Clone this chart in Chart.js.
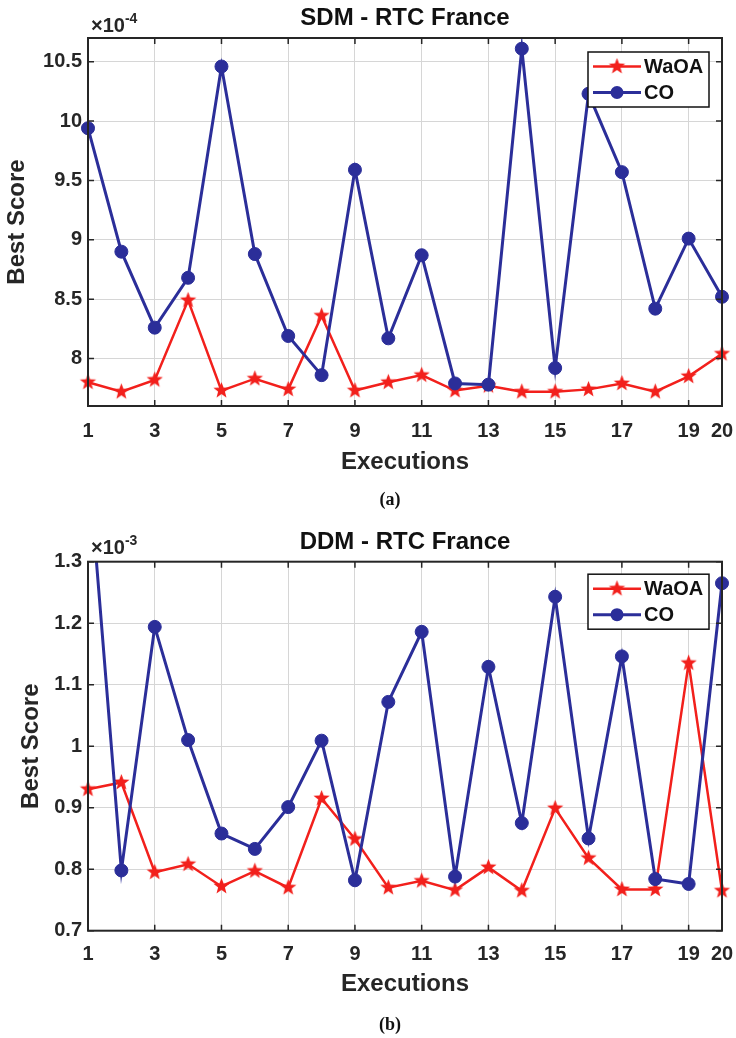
<!DOCTYPE html>
<html>
<head>
<meta charset="utf-8">
<script src="https://cdn.jsdelivr.net/npm/chart.js@4.4.1/dist/chart.umd.min.js"></script>
<style>
  body{margin:0;background:#fff;}
  .box{position:relative;width:736px;}
</style>
</head>
<body>
<div class="box" style="height:520px"><canvas id="c_sdm"></canvas></div>
<div class="box" style="height:518px"><canvas id="c_ddm"></canvas></div>
<script>
Chart.defaults.font.family="'Liberation Sans',Arial,sans-serif";
Chart.defaults.animation=false;

const executions=[1,2,3,4,5,6,7,8,9,10,11,12,13,14,15,16,17,18,19,20];
const xTicks=[1,3,5,7,9,11,13,15,17,19,20];

// SDM scores, in units of 1e-4
const sdmWaOA=[7.80,7.72,7.82,8.49,7.73,7.83,7.74,8.36,7.73,7.80,7.86,7.73,7.77,7.72,7.72,7.74,7.79,7.72,7.85,8.04];
const sdmCO=[9.94,8.90,8.26,8.68,10.46,8.88,8.19,7.86,9.59,8.17,8.87,7.79,7.78,10.61,7.92,10.23,9.57,8.42,9.01,8.52];
const sdmTicks=[8,8.5,9,9.5,10,10.5];

// DDM scores, in units of 1e-3
const ddmWaOA=[0.930,0.941,0.795,0.808,0.772,0.797,0.770,0.915,0.849,0.770,0.781,0.766,0.803,0.765,0.899,0.818,0.767,0.767,1.135,0.765];
const ddmCO=[1.47,0.798,1.194,1.010,0.858,0.833,0.901,1.009,0.782,1.072,1.186,0.788,1.129,0.875,1.243,0.850,1.146,0.784,0.776,1.265];
const ddmTicks=[0.7,0.8,0.9,1,1.1,1.2,1.3];

const RED='#F2201C', BLUE='#2B2E99', INK='#262626', GRID='#d6d6d6';

// filled pentagram marker
function makeStar(color,r){
  const c=document.createElement('canvas');
  const s=Math.ceil(r*2+2);
  c.width=c.height=s;
  const g=c.getContext('2d');
  g.beginPath();
  for(let i=0;i<10;i++){
    const rr=i%2?r*0.42:r, a=-Math.PI/2+i*Math.PI/5;
    g.lineTo(s/2+rr*Math.cos(a),s/2+rr*Math.sin(a));
  }
  g.closePath();
  g.fillStyle=color;g.fill();
  return c;
}
const STAR=makeStar(RED,8.5);

const pts=vals=>executions.map((x,i)=>({x,y:vals[i]}));

// box, inward ticks, exponent label, caption and framed legend
const axesDecor={
  id:'axesDecor',
  afterDraw(chart,args,o){
    const {ctx,chartArea:a,scales:{x,y}}=chart;
    ctx.save();
    ctx.strokeStyle=INK;ctx.lineWidth=1.5;
    ctx.beginPath();
    x.ticks.forEach(t=>{
      const px=x.getPixelForValue(t.value);
      ctx.moveTo(px,a.bottom);ctx.lineTo(px,a.bottom-6);
      ctx.moveTo(px,a.top);ctx.lineTo(px,a.top+6);
    });
    y.ticks.forEach(t=>{
      const py=y.getPixelForValue(t.value);
      ctx.moveTo(a.left,py);ctx.lineTo(a.left+6,py);
      ctx.moveTo(a.right,py);ctx.lineTo(a.right-6,py);
    });
    ctx.stroke();
    ctx.lineWidth=2;
    ctx.strokeRect(a.left,a.top,a.right-a.left,a.bottom-a.top);

    // exponent
    ctx.fillStyle=INK;ctx.textBaseline='alphabetic';ctx.textAlign='left';
    ctx.font="bold 20px 'Liberation Sans',Arial,sans-serif";
    const base=a.top-o.expGap;
    ctx.fillText('\u00d710',a.left+3,base);
    const w=ctx.measureText('\u00d710').width;
    ctx.font="bold 14px 'Liberation Sans',Arial,sans-serif";
    ctx.fillText(o.exp,a.left+3+w,base-9);

    // caption
    ctx.fillStyle='#111';ctx.textAlign='center';ctx.textBaseline='middle';
    ctx.font="bold 18px 'Liberation Serif','Times New Roman',serif";
    ctx.fillText(o.caption,390,o.captionY);

    // legend
    const bw=121,bh=55,bx=a.right-13-bw,by=a.top+o.legTop;
    ctx.fillStyle='#fff';ctx.fillRect(bx,by,bw,bh);
    ctx.strokeStyle='#111';ctx.lineWidth=1.5;ctx.strokeRect(bx,by,bw,bh);
    chart.data.datasets.forEach((ds,i)=>{
      const ry=by+14.5+i*26;
      ctx.strokeStyle=ds.borderColor;ctx.lineWidth=ds.borderWidth;
      ctx.beginPath();ctx.moveTo(bx+5,ry);ctx.lineTo(bx+53,ry);ctx.stroke();
      if(ds.pointStyle instanceof HTMLCanvasElement){
        ctx.drawImage(ds.pointStyle,bx+29-ds.pointStyle.width/2,ry-ds.pointStyle.height/2);
      }else{
        ctx.fillStyle=ds.pointBackgroundColor;
        ctx.beginPath();ctx.arc(bx+29,ry,ds.pointRadius,0,Math.PI*2);ctx.fill();
      }
      ctx.fillStyle='#111';ctx.textAlign='left';ctx.textBaseline='middle';
      ctx.font="bold 20px 'Liberation Sans',Arial,sans-serif";
      ctx.fillText(ds.label,bx+56,ry+1);
    });
    ctx.restore();
  }
};

function scoreChart(id,c){
  return new Chart(document.getElementById(id),{
    type:'line',
    data:{datasets:[
      {label:'WaOA',data:pts(c.waoa),borderColor:RED,borderWidth:2.5,
       pointStyle:STAR,pointRadius:8,order:1,
       clip:{left:12,right:12,top:0,bottom:12}},
      {label:'CO',data:pts(c.co),borderColor:BLUE,borderWidth:3,
       pointStyle:'circle',pointRadius:6.5,pointBackgroundColor:BLUE,pointBorderColor:BLUE,pointBorderWidth:1,order:0,
       clip:{left:12,right:12,top:0,bottom:12}}
    ]},
    options:{
      responsive:true,maintainAspectRatio:false,
      layout:{padding:{left:0,right:14,top:0,bottom:c.padBottom}},
      plugins:{
        legend:{display:false},
        tooltip:{enabled:false},
        title:{display:true,text:c.title,fullSize:false,color:'#111',
          font:{size:24,weight:'bold'},padding:{top:c.titleTop,bottom:c.titleBottom}},
        axesDecor:{exp:c.exp,expGap:c.expGap,caption:c.caption,captionY:c.captionY,legTop:c.legTop}
      },
      scales:{
        x:{type:'linear',min:1,max:20,
          afterBuildTicks:s=>{s.ticks=xTicks.map(v=>({value:v}));},
          afterFit:s=>{s.height=c.xHeight;s.paddingLeft=0;s.paddingRight=0;},
          grid:{color:GRID,lineWidth:1,drawTicks:false},
          border:{display:false},
          ticks:{padding:c.xTickPad,color:INK,autoSkip:false,maxRotation:0,
            font:{size:20,weight:'bold'},callback:v=>String(v)},
          title:{display:true,text:'Executions',color:INK,
            font:{size:24,weight:'bold'},padding:{top:0,bottom:3.6}}
        },
        y:{min:c.yMin,max:c.yMax,
          afterBuildTicks:s=>{s.ticks=c.yTicks.map(v=>({value:v}));},
          afterFit:s=>{s.width=88;},
          grid:{color:GRID,lineWidth:1,drawTicks:false},
          border:{display:false},
          ticks:{padding:6,color:INK,font:{size:20,weight:'bold'},callback:v=>String(v)},
          title:{display:true,text:'Best Score',color:INK,
            font:{size:24,weight:'bold'},padding:{top:c.yTitlePad,bottom:0}}
        }
      }
    },
    plugins:[axesDecor]
  });
}

/* (a) SDM */
scoreChart('c_sdm',{
  title:'SDM - RTC France',waoa:sdmWaOA,co:sdmCO,yTicks:sdmTicks,yMin:7.6,yMax:10.7,
  exp:'-4',expGap:6,caption:'(a)',captionY:500,legTop:14,
  titleTop:4,titleBottom:5.2,padBottom:40,xHeight:74,xTickPad:13,yTitlePad:3
});

/* (b) DDM */
scoreChart('c_ddm',{
  title:'DDM - RTC France',waoa:ddmWaOA,co:ddmCO,yTicks:ddmTicks,yMin:0.7,yMax:1.3,
  exp:'-3',expGap:8,caption:'(b)',captionY:505,legTop:12.5,
  titleTop:8.1,titleBottom:4.8,padBottom:36,xHeight:71.3,xTickPad:12,yTitlePad:17
});
</script>
</body>
</html>
